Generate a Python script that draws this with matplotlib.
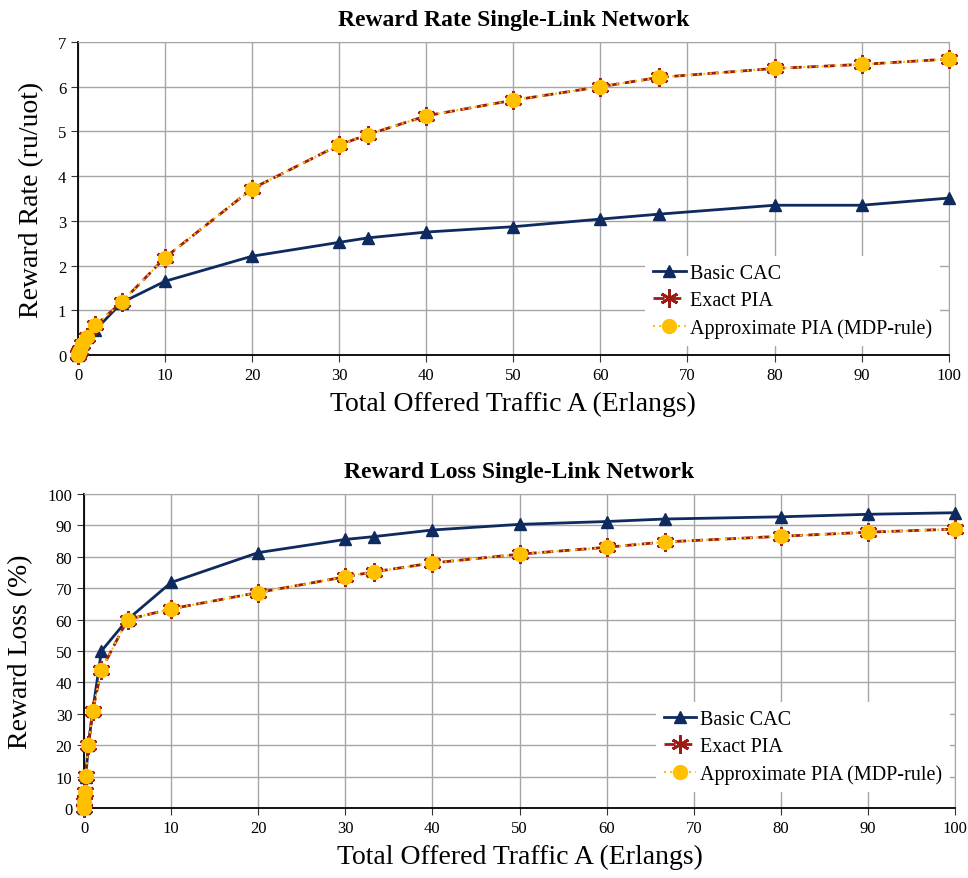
import matplotlib.pyplot as plt
import numpy as np

plt.rcParams['font.family'] = ['Liberation Serif', 'DejaVu Serif']

# offered traffic (Erlangs)
traffic = [0, 0.05, 0.1, 0.2, 0.5, 1, 2, 5, 10, 20, 30, 33.3, 40, 50, 60, 66.7, 80, 90, 100]

# reward rate (ru/uot)
rate_basic = [0, 0.03, 0.06, 0.11, 0.24, 0.41, 0.56, 1.17, 1.65, 2.21, 2.52, 2.62, 2.75, 2.87,
              3.04, 3.15, 3.35, 3.35, 3.51]
rate_exact = [0, 0.03, 0.06, 0.11, 0.24, 0.41, 0.66, 1.18, 2.18, 3.72, 4.70, 4.93, 5.35, 5.70,
              6.00, 6.21, 6.41, 6.50, 6.62]
rate_approx = rate_exact

# reward loss (%)
loss_basic = [0, 2, 5, 10, 20, 31, 50, 60, 71.8, 81.3, 85.5, 86.4, 88.5, 90.3, 91.2, 92.0,
              92.7, 93.5, 94.0]
loss_exact = [0, 2, 5, 10.3, 20, 31, 44, 60, 63.4, 68.6, 73.6, 75.2, 78.0, 80.8, 83.0, 84.7,
              86.5, 87.8, 88.8]
loss_approx = loss_exact

labels = ['Basic CAC', 'Exact PIA', 'Approximate PIA (MDP-rule)']

navy = '#0e2a5e'
darkred = '#9c1c14'
gold = '#ffc000'
grid_c = '#a6a6a6'

fig = plt.figure(figsize=(9.68, 8.79), dpi=100)
ax1 = fig.add_axes([0.0806, 0.595, 0.8994, 0.356])
ax2 = fig.add_axes([0.0868, 0.0796, 0.8998, 0.3574])


def draw(ax, yb, ye, ya):
    ax.plot(traffic, yb, '-', color=navy, lw=2, marker='^', ms=9, label=labels[0],
            clip_on=False, zorder=3)
    ax.plot(traffic, ye, color=darkred, lw=2, ls=(0, (4, 2)), marker=(6, 2, 0), ms=13,
            mew=2, label=labels[1], clip_on=False, zorder=4)
    ax.plot(traffic, ya, color=gold, lw=1.5, ls=(0, (1, 2)), marker='o', ms=10,
            mec=gold, label=labels[2], clip_on=False, zorder=5)
    ax.set_xlim(0, 100)
    ax.set_xticks(range(0, 101, 10))
    ax.grid(True, color=grid_c, lw=1)
    ax.set_axisbelow(True)
    for s in ['top', 'right']:
        ax.spines[s].set_color(grid_c)
    for s in ['left', 'bottom']:
        ax.spines[s].set_color('black')
        ax.spines[s].set_linewidth(1.3)
    ax.tick_params(labelsize=12, length=5, color='#333333')
    ax.set_xlabel('Total Offered Traffic A (Erlangs)', fontsize=20, labelpad=6)


draw(ax1, rate_basic, rate_exact, rate_approx)
ax1.set_ylim(0, 7)
ax1.set_yticks(range(0, 8))
ax1.set_ylabel('Reward Rate (ru/uot)', fontsize=20, labelpad=10)
ax1.set_title('Reward Rate Single-Link Network', fontsize=17, fontweight='bold', pad=12)
leg1 = ax1.legend(loc='upper left', bbox_to_anchor=(0.64, 0.35), fontsize=14.5,
                  frameon=True, facecolor='white', edgecolor='none', framealpha=1,
                  handlelength=1.6, handletextpad=0.2, borderpad=0.4, labelspacing=0.4)

draw(ax2, loss_basic, loss_exact, loss_approx)
ax2.set_ylim(0, 100)
ax2.set_yticks(range(0, 101, 10))
ax2.set_ylabel('Reward Loss (%)', fontsize=20, labelpad=10)
ax2.set_title('Reward Loss Single-Link Network', fontsize=17, fontweight='bold', pad=12)
leg2 = ax2.legend(loc='upper left', bbox_to_anchor=(0.645, 0.37), fontsize=14.5,
                  frameon=True, facecolor='white', edgecolor='none', framealpha=1,
                  handlelength=1.6, handletextpad=0.2, borderpad=0.4, labelspacing=0.4)

fig.savefig('out.png', dpi=100)
